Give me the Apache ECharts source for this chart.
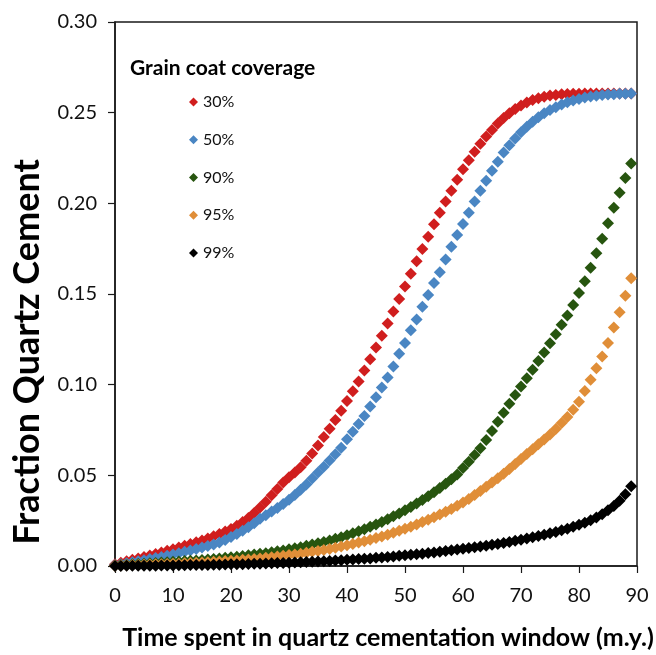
<!DOCTYPE html>
<html>
<head>
<meta charset="utf-8">
<script src="https://cdn.jsdelivr.net/npm/echarts@6/dist/echarts.min.js"></script>
<style>html,body{margin:0;padding:0;background:#fff}#c{width:656px;height:655px}</style>
</head>
<body>
<div id="c"></div>
<script>
const time = [0,1,2,3,4,5,6,7,8,9,10,11,12,13,14,15,16,17,18,19,20,21,22,23,24,25,26,27,28,29,30,31,32,33,34,35,36,37,38,39,40,41,42,43,44,45,46,47,48,49,50,51,52,53,54,55,56,57,58,59,60,61,62,63,64,65,66,67,68,69,70,71,72,73,74,75,76,77,78,79,80,81,82,83,84,85,86,87,88,89];

const cov30 = [0.0010,0.0018,0.0026,0.0034,0.0042,0.0050,0.0058,0.0066,0.0075,0.0084,0.0093,0.0102,0.0111,0.0121,0.0131,0.0141,0.0152,0.0164,0.0177,0.0190,0.0204,0.0222,0.0242,0.0265,0.0292,0.0322,0.0355,0.0390,0.0425,0.0460,0.0490,0.0515,0.0545,0.0580,0.0620,0.0665,0.0712,0.0757,0.0805,0.0856,0.0910,0.0964,0.1018,0.1078,0.1140,0.1205,0.1270,0.1337,0.1404,0.1473,0.1541,0.1611,0.1680,0.1748,0.1816,0.1884,0.1948,0.2010,0.2070,0.2130,0.2188,0.2238,0.2285,0.2328,0.2368,0.2405,0.2440,0.2470,0.2497,0.2520,0.2540,0.2556,0.2570,0.2580,0.2588,0.2595,0.2598,0.2601,0.2603,0.2604,0.2605,0.2606,0.2606,0.2606,0.2606,0.2606,0.2606,0.2606,0.2606,0.2606];

const cov50 = [0.0005,0.0010,0.0015,0.0020,0.0026,0.0032,0.0038,0.0044,0.0050,0.0057,0.0064,0.0071,0.0078,0.0086,0.0094,0.0102,0.0110,0.0119,0.0129,0.0144,0.0160,0.0177,0.0195,0.0214,0.0236,0.0260,0.0280,0.0300,0.0320,0.0342,0.0365,0.0392,0.0420,0.0450,0.0482,0.0515,0.0548,0.0582,0.0616,0.0652,0.0699,0.0741,0.0783,0.0827,0.0879,0.0930,0.0985,0.1040,0.1100,0.1170,0.1230,0.1300,0.1360,0.1430,0.1494,0.1560,0.1620,0.1690,0.1760,0.1826,0.1886,0.1948,0.2010,0.2070,0.2125,0.2180,0.2230,0.2280,0.2320,0.2358,0.2392,0.2422,0.2450,0.2475,0.2497,0.2515,0.2530,0.2545,0.2557,0.2567,0.2576,0.2583,0.2589,0.2593,0.2597,0.2600,0.2602,0.2604,0.2605,0.2606];

const cov90 = [0.0003,0.0005,0.0007,0.0009,0.0011,0.0013,0.0015,0.0017,0.0019,0.0021,0.0023,0.0025,0.0027,0.0029,0.0031,0.0033,0.0036,0.0039,0.0042,0.0045,0.0048,0.0051,0.0055,0.0059,0.0063,0.0067,0.0071,0.0076,0.0081,0.0086,0.0092,0.0098,0.0104,0.0111,0.0118,0.0125,0.0133,0.0141,0.0150,0.0159,0.0169,0.0180,0.0191,0.0203,0.0216,0.0229,0.0243,0.0258,0.0274,0.0290,0.0307,0.0325,0.0344,0.0364,0.0385,0.0407,0.0430,0.0454,0.0479,0.0505,0.0540,0.0575,0.0612,0.0650,0.0695,0.0745,0.0795,0.0845,0.0895,0.0943,0.0990,0.1035,0.1082,0.1130,0.1178,0.1228,0.1278,0.1330,0.1382,0.1440,0.1505,0.1570,0.1645,0.1725,0.1805,0.1890,0.1975,0.2058,0.2140,0.2220];

const cov95 = [0.0002,0.0003,0.0004,0.0005,0.0006,0.0007,0.0008,0.0009,0.0010,0.0011,0.0012,0.0013,0.0015,0.0016,0.0018,0.0019,0.0021,0.0023,0.0025,0.0027,0.0029,0.0031,0.0034,0.0036,0.0039,0.0042,0.0045,0.0048,0.0052,0.0056,0.0060,0.0064,0.0068,0.0073,0.0078,0.0083,0.0088,0.0094,0.0100,0.0107,0.0114,0.0121,0.0129,0.0137,0.0145,0.0154,0.0163,0.0173,0.0183,0.0194,0.0205,0.0217,0.0229,0.0242,0.0255,0.0269,0.0284,0.0299,0.0315,0.0332,0.0350,0.0369,0.0391,0.0414,0.0437,0.0460,0.0484,0.0509,0.0535,0.0562,0.0590,0.0617,0.0644,0.0671,0.0698,0.0725,0.0755,0.0788,0.0822,0.0862,0.0906,0.0965,0.1027,0.1090,0.1155,0.1230,0.1315,0.1400,0.1490,0.1587];

const cov99 = [0.0000,0.0000,0.0001,0.0001,0.0001,0.0002,0.0002,0.0002,0.0003,0.0003,0.0003,0.0004,0.0004,0.0005,0.0005,0.0006,0.0006,0.0007,0.0007,0.0008,0.0009,0.0009,0.0010,0.0011,0.0012,0.0013,0.0014,0.0015,0.0016,0.0017,0.0018,0.0019,0.0020,0.0022,0.0023,0.0025,0.0026,0.0028,0.0030,0.0032,0.0034,0.0036,0.0038,0.0040,0.0042,0.0045,0.0047,0.0050,0.0053,0.0056,0.0059,0.0062,0.0065,0.0068,0.0072,0.0075,0.0079,0.0083,0.0087,0.0091,0.0095,0.0099,0.0103,0.0108,0.0112,0.0117,0.0122,0.0127,0.0133,0.0139,0.0145,0.0151,0.0158,0.0165,0.0172,0.0180,0.0188,0.0197,0.0206,0.0216,0.0227,0.0239,0.0252,0.0268,0.0286,0.0307,0.0331,0.0360,0.0396,0.0440];

const seriesNames = ['30%','50%','90%','95%','99%'];
const seriesColors = ['#D01E1E','#4A86C3','#27550F','#E08E38','#000000'];
const seriesValues = [cov30, cov50, cov90, cov95, cov99];
const yTicks = [0, 0.05, 0.10, 0.15, 0.20, 0.25, 0.30];
const xTicks = [0,10,20,30,40,50,60,70,80,90];
const legendTitle = 'Grain coat coverage';
const xTitle = 'Time spent in quartz cementation window (m.y.)';
const yTitle = 'Fraction Quartz Cement';

const FONT = 'Lato, "Open Sans", sans-serif';
const chart = echarts.init(document.getElementById('c'), null, {renderer:'canvas'});

const series = seriesNames.map((n, i) => ({
  name: n,
  type: 'scatter',
  symbol: 'diamond',
  symbolSize: 12,
  itemStyle: { color: seriesColors[i], opacity: 1 },
  data: time.map((t, k) => [t, seriesValues[i][k]]),
  animation: false,
  emphasis: { disabled: true }
}));

chart.setOption({
  animation: false,
  backgroundColor: '#fff',
  grid: { left: 115, right: 19, top: 22, bottom: 89, show: true, borderColor: '#1a1a1a', borderWidth: 1.5, backgroundColor: 'transparent' },
  xAxis: {
    type: 'value', min: xTicks[0], max: xTicks[xTicks.length-1], interval: 10,
    axisLine: { show: true, lineStyle: { color: '#1a1a1a', width: 1.5 } },
    axisTick: { show: true, length: 7, inside: false, lineStyle: { color: '#1a1a1a', width: 1.2 } },
    axisLabel: { margin: 20, fontSize: 20, color: '#111', fontFamily: FONT },
    splitLine: { show: false }
  },
  yAxis: {
    type: 'value', min: yTicks[0], max: yTicks[yTicks.length-1], interval: 0.05,
    axisLine: { show: true, lineStyle: { color: '#1a1a1a', width: 1.5 } },
    axisTick: { show: true, length: 7, inside: false, lineStyle: { color: '#1a1a1a', width: 1.2 } },
    axisLabel: { margin: 18, fontSize: 20, color: '#111', fontFamily: FONT, formatter: v => v.toFixed(2) },
    splitLine: { show: false }
  },
  legend: {
    orient: 'vertical', left: 184, top: 87,
    data: seriesNames,
    icon: 'diamond', itemWidth: 9, itemHeight: 9, itemGap: 17.75,
    textStyle: { fontSize: 16, color: '#111', fontFamily: FONT, lineHeight: 20 },
    selectedMode: false
  },
  graphic: [
    { type: 'text', x: 130, y: 68, style: { text: legendTitle, font: 'bold 21px ' + FONT, fill: '#000', textVerticalAlign: 'middle' } },
    { type: 'text', x: 388, y: 638, style: { text: xTitle, font: 'bold 25px ' + FONT, fill: '#000', textAlign: 'center', textVerticalAlign: 'middle' } },
    { type: 'text', x: 27, y: 352, rotation: Math.PI/2, style: { text: yTitle, font: 'bold 36px ' + FONT, fill: '#000', textAlign: 'center', textVerticalAlign: 'middle' } }
  ],
  series: series
});
</script>
</body>
</html>
